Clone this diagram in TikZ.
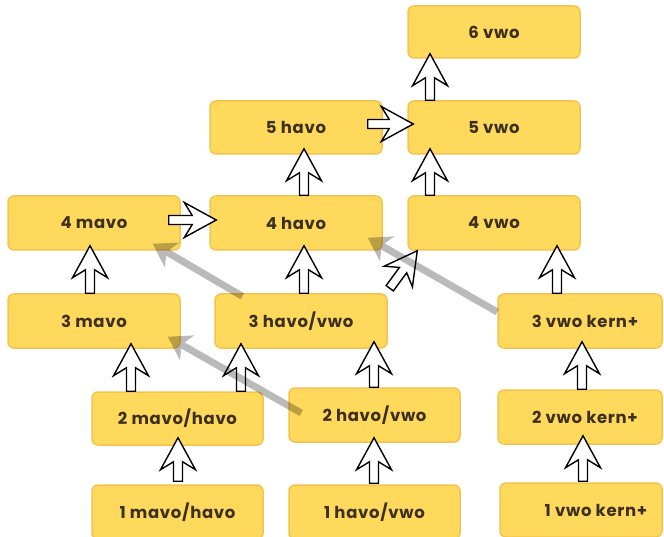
\documentclass[tikz,border=0pt]{standalone}
\usepackage{fontspec}
\setmainfont{Poppins}[LetterSpace=4]
\usetikzlibrary{calc,arrows.meta}
\definecolor{boxfill}{HTML}{FFD95C}
\definecolor{boxline}{HTML}{F5C24E}
\definecolor{boxtext}{HTML}{3D3020}
\tikzset{
  box/.style={draw=boxline, fill=boxfill, line width=1.5pt, rounded corners=6pt,
    minimum width=172pt, minimum height=54pt, inner sep=0pt,
    font=\fontsize{16.5}{20}\selectfont\bfseries, text=boxtext},
  barrow/.style={draw=black, fill=white, line width=1.4pt, line join=miter},
  greyarrow/.style={line width=7pt, black, -{Stealth[length=22pt,width=28pt,inset=6pt]}}
}
\newcommand\blockarr[2]{%
  \path (#2) coordinate (T) ($(#2)!24pt!(#1)$) coordinate (J)
        ($(#2)!32pt!(#1)$) coordinate (W) (#1) coordinate (B);
  \draw[barrow] ($(B)!4.5pt!90:(T)$) -- ($(J)!4.5pt!90:(T)$) -- ($(W)!17.5pt!90:(T)$)
    -- (T) -- ($(W)!17.5pt!-90:(T)$) -- ($(J)!4.5pt!-90:(T)$) -- ($(B)!4.5pt!-90:(T)$) -- cycle;}
\begin{document}
\begin{tikzpicture}[x=1pt,y=-1pt]
\useasboundingbox (0,0) rectangle (664,537);
\clip (0,0) rectangle (664,537);
% boxes
\node[box, minimum height=52pt] (v6) at (494,32) {6 vwo};
\node[box, minimum height=53pt] (h5) at (296,127.5) {5 havo};
\node[box, minimum height=53pt] (v5) at (494,127.5) {5 vwo};
\node[box] (m4) at (94,223) {4 mavo};
\node[box] (h4) at (296,223) {4 havo};
\node[box] (v4) at (494,223) {4 vwo};
\node[box] (m3) at (94,321) {3 mavo};
\node[box] (hv3) at (301,321) {3 havo/vwo};
\node[box, minimum width=164pt] (k3) at (580,321) {\hspace*{10pt}3 vwo kern+};
\node[box, minimum width=171pt, minimum height=53pt] (mh2) at (177.5,418.5) {2 mavo/havo};
\node[box, minimum width=171pt] (hv2) at (374.5,415) {2 havo/vwo};
\node[box, minimum width=164pt] (k2) at (580,417) {\hspace*{10pt}2 vwo kern+};
\node[box, minimum width=171pt] (mh1) at (177.5,512) {1 mavo/havo};
\node[box, minimum width=171pt] (hv1) at (374.5,512) {1 havo/vwo};
\node[box, minimum width=162pt] (k1) at (581,510) {\hspace*{30pt}1 vwo kern+};
% block arrows
\blockarr{[xshift=0.5pt,yshift=3pt]mh1.north}{[xshift=0.5pt,yshift=8pt]mh2.south}
\blockarr{[xshift=-0.5pt,yshift=1pt]hv1.north}{[xshift=-0.5pt,yshift=5pt]hv2.south}
\blockarr{[xshift=2pt,yshift=1pt]k1.north}{[xshift=3pt,yshift=9pt]k2.south}
\blockarr{[xshift=-46.5pt]mh2.north}{[xshift=37pt,yshift=5pt]m3.south}
\blockarr{[xshift=63.5pt]mh2.north}{[xshift=-60pt,yshift=5pt]hv3.south}
\blockarr{[xshift=-0.5pt]hv2.north}{[xshift=73pt,yshift=7pt]hv3.south}
\blockarr{[xshift=2pt]k2.north}{[xshift=2pt,yshift=7pt]k3.south}
\blockarr{[xshift=-4pt]m3.north}{[xshift=-4pt,yshift=5pt]m4.south}
\blockarr{[xshift=3pt]hv3.north}{[xshift=8pt,yshift=5pt]h4.south}
\blockarr{[xshift=-23pt]k3.north}{[xshift=63pt,yshift=5pt]v4.south}
\blockarr{[xshift=2pt,yshift=5pt]hv3.north east}{[xshift=10pt]v4.south west}
\blockarr{[xshift=-12pt,yshift=3pt]m4.east}{[xshift=7pt,yshift=3pt]h4.west}
\blockarr{[xshift=8pt]h4.north}{[xshift=8pt,yshift=6pt]h5.south}
\blockarr{[xshift=-64pt]v4.north}{[xshift=-64pt,yshift=6pt]v5.south}
\blockarr{[xshift=-15pt,yshift=3.5pt]h5.east}{[xshift=6pt,yshift=3.5pt]v5.west}
\blockarr{[xshift=-64pt]v5.north}{[xshift=-64pt,yshift=5pt]v6.south}
% grey arrows
\begin{scope}[transparency group, opacity=0.27]
\draw[greyarrow] ([yshift=9pt]k3.west) -- ([xshift=-15pt,yshift=13pt]h4.south east);
\end{scope}
\begin{scope}[transparency group, opacity=0.27]
\draw[greyarrow] ([xshift=28pt,yshift=-3pt]hv3.north west) -- ([xshift=-28pt,yshift=7pt]m4.south east);
\end{scope}
\begin{scope}[transparency group, opacity=0.27]
\draw[greyarrow] ([xshift=13pt,yshift=2pt]hv2.west) -- ([xshift=-13pt,yshift=12pt]m3.south east);
\end{scope}
\end{tikzpicture}
\end{document}
